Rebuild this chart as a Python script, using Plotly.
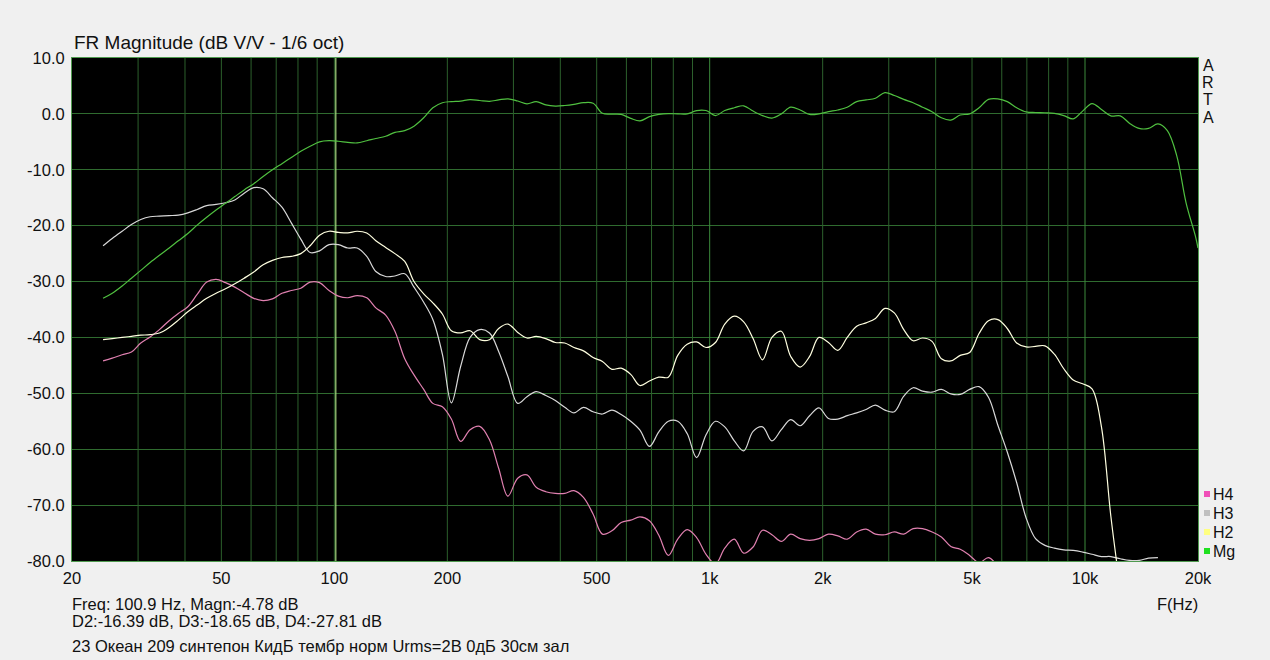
import plotly.graph_objects as go

# frequency points, Hz
freq = [24.2, 25.6, 27.2, 28.8, 30.5, 32.3, 34.2, 36.3, 38.4, 40.7,
        43.1, 45.7, 48.4, 51.3, 54.3, 57.5, 61, 64.6, 68.4, 72.5,
        76.8, 81.4, 86.2, 91.3, 96.8, 102.5, 108.6, 115, 122, 129,
        137, 145, 154, 163, 173, 183, 194, 205, 217, 230,
        244, 259, 274, 290, 308, 326, 345, 366, 388, 411,
        435, 461, 489, 518, 549, 581, 616, 652, 691, 732,
        776, 822, 871, 923, 978, 1036, 1097, 1163, 1232, 1305,
        1383, 1465, 1552, 1644, 1742, 1846, 1955, 2072, 2195, 2325,
        2464, 2610, 2765, 2930, 3104, 3289, 3484, 3691, 3911, 4143,
        4390, 4651, 4927, 5220, 5530, 5859, 6207, 6577, 6968, 7382,
        7821, 8286, 8779, 9301, 9854, 10440, 11060, 11718, 12415, 13153,
        13935, 14764, 15642, 16572, 17558, 18602, 19708, 20000]

mg = [-33, -32.1, -30.8, -29.4, -28, -26.6, -25.3, -24, -22.7, -21.4,
      -19.9, -18.5, -17.2, -16, -14.8, -13.6, -12.5, -11.2, -10, -8.9,
      -7.8, -6.7, -5.8, -5, -4.8, -4.9, -5.1, -5.2, -4.8, -4.4,
      -4, -3.3, -3, -2.2, -0.7, 1.1, 2, 2.2, 2.3, 2.55,
      2.4, 2.25, 2.5, 2.7, 2.3, 1.8, 2.2, 1.6, 1.4, 1.5,
      1.7, 2, 1.9, 0.1, -0.05, -0.1, -0.8, -1.25, -0.5, -0.1,
      0.05, 0, 0, 0.6, 0.6, -0.3, 0.6, 1.1, 1.45, 0.5,
      -0.3, -0.75, 0, 1.2, 0.7, -0.1, 0, 0.4, 0.7, 1.2,
      2.2, 2.5, 2.8, 3.8, 3.3, 2.6, 2, 1.2, 0.4, -0.7,
      -1.1, -0.2, 0, 1.1, 2.6, 2.7, 2.2, 1.1, 0.35, 0.25,
      0.2, 0.1, -0.3, -0.9, 0.5, 1.85, 0.8, -0.35, -0.35, -1.7,
      -2.6, -2.6, -1.8, -3, -7.5, -16, -22, -24]

h2 = [-40.4, -40.2, -40, -39.8, -39.6, -39.5, -39.2, -38.2, -36.9, -35.4,
      -34.2, -33, -32.1, -31.3, -30.4, -29.4, -28.3, -27, -26.2, -25.7,
      -25.5, -25, -23.6, -21.7, -21, -21.2, -21.3, -21, -21.3, -22.7,
      -23.9, -25, -26.4, -30, -32.2, -33.8, -35.8, -38.8, -39.2, -38.8,
      -40.4, -40.4, -38.4, -37.6, -39.1, -40.1, -39.8, -40.2, -40.9, -41,
      -41.8, -42.4, -43.6, -44.3, -45.7, -45.5, -46.6, -48.6, -47.8, -47.1,
      -47.1, -43.2, -41.2, -40.8, -41.8, -40.9, -37.6, -36.2, -37.2, -40.2,
      -44, -40, -38.9, -43.4, -45.3, -43.4, -40, -40.9, -42.3, -40,
      -38, -37.4, -36.6, -34.8, -35.6, -38.6, -40.6, -40.1, -40.7, -43.8,
      -44.2, -43.2, -42.7, -39.3, -37, -36.8, -38.4, -41, -41.7, -41.6,
      -41.5, -43, -45.6, -47.6, -48.3, -49.2, -56, -72, -85]

h3 = [-23.6, -22.3, -21, -19.8, -18.9, -18.4, -18.3, -18.2, -18.1, -17.7,
      -17.1, -16.4, -16.2, -15.9, -15.4, -14.2, -13.2, -13.4, -15, -16.7,
      -19.5, -22.4, -24.8, -24.5, -23.4, -23.4, -24, -24, -25.5, -28.2,
      -29.1, -29, -28.6, -31, -33.7, -36.8, -43, -51.7, -45.2, -40,
      -38.6, -39.2, -42.5, -47, -51.8, -50.6, -49.7, -50.4, -51.3, -52.5,
      -53.5, -52.5, -53.3, -53.7, -53, -53.8, -55, -56.6, -59.5, -56.9,
      -55, -55, -57.2, -61.5, -57.4, -55, -56, -58.5, -60.3, -56.8,
      -56, -58.5, -56.5, -54.7, -55.8, -54, -52.6, -54.5, -54.6, -54,
      -53.5, -52.9, -52.1, -53, -53.3, -50.5, -49, -49.6, -49.8, -49.3,
      -50.1, -50.2, -49.3, -48.8, -50.7, -55.7, -60.5, -66, -72.3, -76,
      -77.2, -77.7, -78, -78.1, -78.4, -78.8, -79.2, -79.2, -79.6, -79.9,
      -79.9, -79.5, -79.4]

h4 = [-44.2, -43.7, -43.1, -42.6, -41, -39.9, -38.6, -37, -35.7, -34.5,
      -32.3, -30.1, -29.6, -30.2, -31, -32, -33, -33.4, -33.1, -32.1,
      -31.6, -31.2, -30.1, -30.2, -31.6, -32.6, -32.9, -32.5, -32.9, -34.7,
      -36, -38.9, -43.8, -46.7, -49.3, -51.8, -52.4, -54.6, -58.6, -56.5,
      -55.9, -58.3, -63.4, -68.4, -65.2, -64.6, -66.8, -67.6, -67.9, -67.9,
      -67.4, -68.6, -71.6, -75.2, -74.6, -73.1, -72.7, -72.1, -72.8, -75.4,
      -79, -76.1, -74.4, -75.8, -78.8, -80.5, -77.7, -76.1, -78.6, -77.5,
      -74.5, -75.3, -76.5, -75.2, -76, -76.3, -76, -75.2, -75.5, -76.1,
      -74.8, -74.3, -75.2, -75.3, -74.8, -75.2, -74.2, -74.2, -74.8, -75.7,
      -77.4, -77.9, -79, -80.3, -79.4, -80.8, -82]

x_ticks = [20, 50, 100, 200, 500, 1000, 2000, 5000, 10000, 20000]
x_labels = ["20", "50", "100", "200", "500", "1k", "2k", "5k", "10k", "20k"]
x_grid = [30, 40, 50, 60, 70, 80, 90, 100, 200, 300, 400, 500, 600, 700, 800, 900,
          2000, 3000, 4000, 5000, 6000, 7000, 8000, 9000]
y_ticks = [10, 0, -10, -20, -30, -40, -50, -60, -70, -80]
y_labels = ["10.0", "0.0", "-10.0", "-20.0", "-30.0", "-40.0", "-50.0", "-60.0", "-70.0", "-80.0"]
decades = [1000, 10000]
cursor_freq = 100.9

legend_names = ["H4", "H3", "H2", "Mg"]
legend_colors = ["#f050b8", "#c0c0c0", "#ffff80", "#20e020"]

FONT = "Liberation Sans, Arial, sans-serif"
W, H = 1270, 660
L, R, T, B = 72, 1198, 58, 561

fig = go.Figure()


def vlines(xs, color, width):
    # one trace holding all the vertical lines, broken with None
    px, py = [], []
    for v in xs:
        px += [v, v, None]
        py += [-80, 10, None]
    fig.add_trace(go.Scatter(x = px, y = py, mode = "lines", hoverinfo = "skip",
        line = dict(color = color, width = width)))


#grid, decade lines and the cursor go under the curves
vlines(x_grid, "#2c602c", 1)
vlines(decades, "#3c8a3c", 1)
vlines([cursor_freq], "#a8d880", 1.2)

fig.add_trace(go.Scatter(x = freq[:len(h4)], y = h4, mode = "lines", name = "H4",
    line = dict(color = "#e080b0", width = 1.2, shape = "spline")))
fig.add_trace(go.Scatter(x = freq[:len(h3)], y = h3, mode = "lines", name = "H3",
    line = dict(color = "#d8d8d8", width = 1.2, shape = "spline")))
fig.add_trace(go.Scatter(x = freq[:len(h2)], y = h2, mode = "lines", name = "H2",
    line = dict(color = "#ffffe0", width = 1.2, shape = "spline")))
fig.add_trace(go.Scatter(x = freq, y = mg, mode = "lines", name = "Mg",
    line = dict(color = "#50c040", width = 1.2, shape = "spline")))

fig.update_layout(width = W, height = H, showlegend = False,
    margin = dict(l = L, r = W - R, t = T, b = H - B),
    paper_bgcolor = "#f0f0f0", plot_bgcolor = "#000000",
    font = dict(family = FONT, size = 16.5, color = "#111111"))

fig.update_xaxes(type = "log", range = [1.30103, 4.30103],
    tickmode = "array", tickvals = x_ticks, ticktext = x_labels,
    ticks = "", showgrid = False,
    zeroline = False, showline = True, linecolor = "#4f9a4f", linewidth = 1, mirror = True,
    tickfont = dict(size = 16.5), ticklabelstandoff = 2)
fig.update_yaxes(range = [-80, 10], tickmode = "array", tickvals = y_ticks, ticktext = y_labels,
    ticks = "", showgrid = True, gridcolor = "#2f6b2f", gridwidth = 1,
    zeroline = False, showline = True, linecolor = "#4f9a4f", linewidth = 1, mirror = True,
    tickfont = dict(size = 16.5), ticklabelstandoff = 3)


def label(text, x, y, size = 16.5, anchor = "left"):
    fig.add_annotation(xref = "paper", yref = "paper",
        x = (x - L) / (R - L), y = (B - y) / (B - T),
        text = text, showarrow = False, xanchor = anchor, yanchor = "middle",
        font = dict(size = size, color = "#111111"))


label("FR Magnitude (dB V/V - 1/6 oct)", 72, 43, 19)
label("Freq: 100.9 Hz, Magn:-4.78 dB", 70, 604)
label("D2:-16.39 dB, D3:-18.65 dB, D4:-27.81 dB", 70, 621)
label("23 Океан 209 синтепон КидБ тембр норм Urms=2В 0дБ 30см зал", 70, 646)
label("F(Hz)", 1200, 604, 16.5, "right")

for ch, y in zip("ARTA", [66, 83, 100, 117]):
    label(ch, 1208, y, 16, "center")

for name, color, y in zip(legend_names, legend_colors, [494, 513, 532, 551]):
    label(name, 1211, y, 16)
    fig.add_shape(type = "rect", xref = "paper", yref = "paper",
        x0 = (1204 - L) / (R - L), x1 = (1210 - L) / (R - L),
        y0 = (B - y - 3) / (B - T), y1 = (B - y + 3) / (B - T),
        fillcolor = color, line_width = 0)

fig.write_html("out.html", config = {"displayModeBar": False},
    post_script = "document.body.style.margin = '0';")
